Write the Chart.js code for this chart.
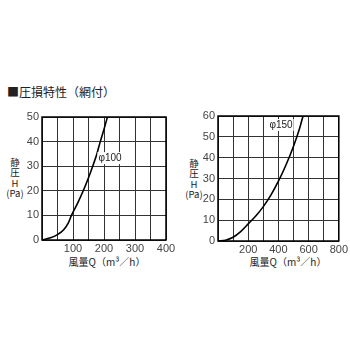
<!DOCTYPE html>
<html><head><meta charset="utf-8">
<script src="https://cdn.jsdelivr.net/npm/chart.js@4"></script>
<style>
body{margin:0;background:#fff;width:350px;height:350px;overflow:hidden;position:relative;font-family:'Noto Sans CJK JP','Noto Sans',sans-serif;}
canvas{position:absolute;left:0;top:0;}
.t{position:absolute;color:#222;white-space:nowrap;}
.yl{width:24px;text-align:center;font-size:9.5px;}
.yl div{height:10.3px;line-height:10px;}
.xl{font-size:10px;line-height:12px;width:90px;text-align:center;}
</style></head><body>
<div class="t" style="left:7px;top:84px;font-size:12px;line-height:16px;">■圧損特性（網付）</div>
<div class="t yl" style="left:3px;top:157px;"><div>静</div><div>圧</div><div>H</div><div>(Pa)</div></div>
<div class="t yl" style="left:182px;top:158px;"><div>静</div><div>圧</div><div>H</div><div>(Pa)</div></div>
<div class="t xl" style="left:62px;top:256px;">風量Q（m³／h）</div>
<div class="t xl" style="left:243px;top:256px;">風量Q（m³／h）</div>
<canvas id="c1" width="350" height="350"></canvas>
<canvas id="c2" width="350" height="350"></canvas>
<script>
// Φ100 curve: airflow Q (m3/h) vs static pressure H (Pa)
const q100 = [0, 30, 50, 70, 85, 95, 115, 133, 150, 165, 177, 188, 200, 211];
const h100 = [0, 1, 2.2, 4.2, 7, 10, 15, 20, 25.3, 30.5, 35, 40, 45, 50];
// Φ150 curve
const q150 = [0, 50, 100, 150, 200, 250, 300, 350, 400, 450, 500, 540, 565];
const h150 = [0, 0.4, 1.8, 4.5, 8.2, 12, 16.5, 22, 28.7, 36.5, 45.5, 54, 60.5];
// axes
const x1Max = 400, x1Step = 50, x1Labels = [100, 200, 300, 400];
const y1Max = 50, y1Step = 10;
const x2Max = 800, x2Step = 100, x2Labels = [200, 400, 600, 800];
const y2Max = 60, y2Step = 10;
const label1 = {text: 'φ100', q: 182, h: 33.3};
const label2 = {text: 'φ150', q: 341, h: 55.7};

const tickFont = {family: "'Liberation Sans Narrow','Liberation Sans',sans-serif", size: 11};

function frameAndLabel(lbl) {
  return {
    id: 'frame',
    afterDraw(chart) {
      const {ctx, chartArea: a, scales} = chart;
      ctx.save();
      ctx.strokeStyle = '#000';
      ctx.lineWidth = 1.5;
      ctx.strokeRect(a.left, a.top, a.right - a.left, a.bottom - a.top);
      ctx.font = "10px 'Liberation Sans Narrow','Liberation Sans',sans-serif";
      ctx.textBaseline = 'middle';
      ctx.textAlign = 'left';
      const px = scales.x.getPixelForValue(lbl.q), py = scales.y.getPixelForValue(lbl.h);
      const w = ctx.measureText(lbl.text).width;
      ctx.fillStyle = '#fff';
      ctx.fillRect(px - 1, py - 6, w + 2, 12);
      ctx.fillStyle = '#222';
      ctx.fillText(lbl.text, px, py);
      ctx.restore();
    }
  };
}

function makeChart(id, qs, hs, xMax, xStep, xLabels, yMax, yStep, pad, lbl) {
  new Chart(document.getElementById(id), {
    type: 'line',
    data: {datasets: [{
      data: qs.map((q, i) => ({x: q, y: hs[i]})),
      borderColor: '#000', borderWidth: 1.6, pointRadius: 0,
      cubicInterpolationMode: 'monotone', fill: false
    }]},
    options: {
      responsive: false, animation: false, devicePixelRatio: 1,
      layout: {padding: pad},
      plugins: {legend: {display: false}, tooltip: {enabled: false}},
      scales: {
        x: {
          type: 'linear', min: 0, max: xMax,
          ticks: {stepSize: xStep, autoSkip: false, maxRotation: 0, color: '#444', font: tickFont, padding: 2,
            callback: v => xLabels.includes(v) ? String(v) : ''},
          grid: {color: '#333', lineWidth: 1, drawTicks: false},
          border: {display: false},
          afterFit: s => { s.height = 20; }
        },
        y: {
          type: 'linear', min: 0, max: yMax,
          ticks: {stepSize: yStep, color: '#444', font: tickFont, padding: 3},
          grid: {color: '#333', lineWidth: 1, drawTicks: false},
          border: {display: false},
          afterFit: s => { s.width = 30; }
        }
      }
    },
    plugins: [frameAndLabel(lbl)]
  });
}

makeChart('c1', q100, h100, x1Max, x1Step, x1Labels, y1Max, y1Step,
  {left: 12, right: 184, top: 117, bottom: 90}, label1);
makeChart('c2', q150, h150, x2Max, x2Step, x2Labels, y2Max, y2Step,
  {left: 188, right: 10, top: 116, bottom: 89}, label2);
</script>
</body></html>
